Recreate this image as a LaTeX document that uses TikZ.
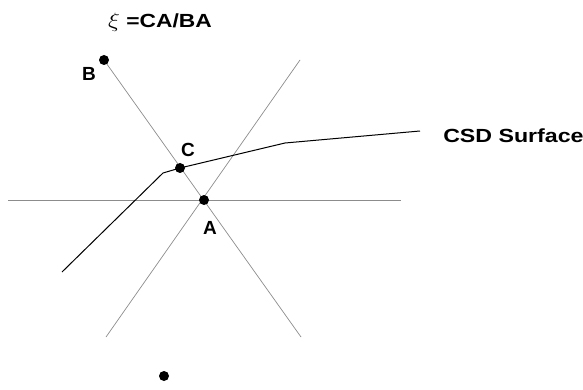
\documentclass[tikz,border=0pt]{standalone}
\usepackage{fontspec}
\setmainfont{Liberation Sans}
\begin{document}
\begin{tikzpicture}[x=1pt,y=-1pt,
  guide/.style={draw=black!45,line width=0.7pt},
  surf/.style={draw=black,line width=1pt},
  dot/.style={circle,fill=black,inner sep=0pt,minimum size=10pt},
  lbl/.style={font=\bfseries\fontsize{19}{19}\selectfont,inner sep=0pt}]
\useasboundingbox (0,0) rectangle (583,390);
% anchor coordinates
\coordinate (pB) at (104,60);
\coordinate (pA) at (204,200);
\coordinate (pC) at (180,168);
\coordinate (pD) at (164,376);
\coordinate (h1) at (8,200);
\coordinate (h2) at (401,200);
\coordinate (b2) at (301,337);
\coordinate (r1) at (300,60);
\coordinate (r2) at (106,337);
\coordinate (s0) at (62,272);
\coordinate (s1) at (163,173);
\coordinate (s2) at (285,143);
\coordinate (s3) at (420,131);
% lines
\draw[guide] (h1) -- (h2);
\draw[guide] (pB) -- (b2);
\draw[guide] (r1) -- (r2);
\draw[surf] (s0) -- (s1) -- (pC) -- (s2) -- (s3);
% points
\node[dot] (B) at (pB) {};
\node[dot] (A) at (pA) {};
\node[dot] (C) at (pC) {};
\node[dot] (D) at (pD) {};
% labels
\node[lbl] (lB) at (89,74) {B};
\node[lbl] (lC) at (188,150) {C};
\node[lbl] (lA) at (210,228) {A};
\node[lbl,anchor=west,xscale=1.22] (lS) at (443,136) {CSD Surface};
\node[lbl,xscale=1.2] (title) at (160,22) {{\fontsize{21}{21}\selectfont$\xi$} =CA/BA};
\end{tikzpicture}
\end{document}
